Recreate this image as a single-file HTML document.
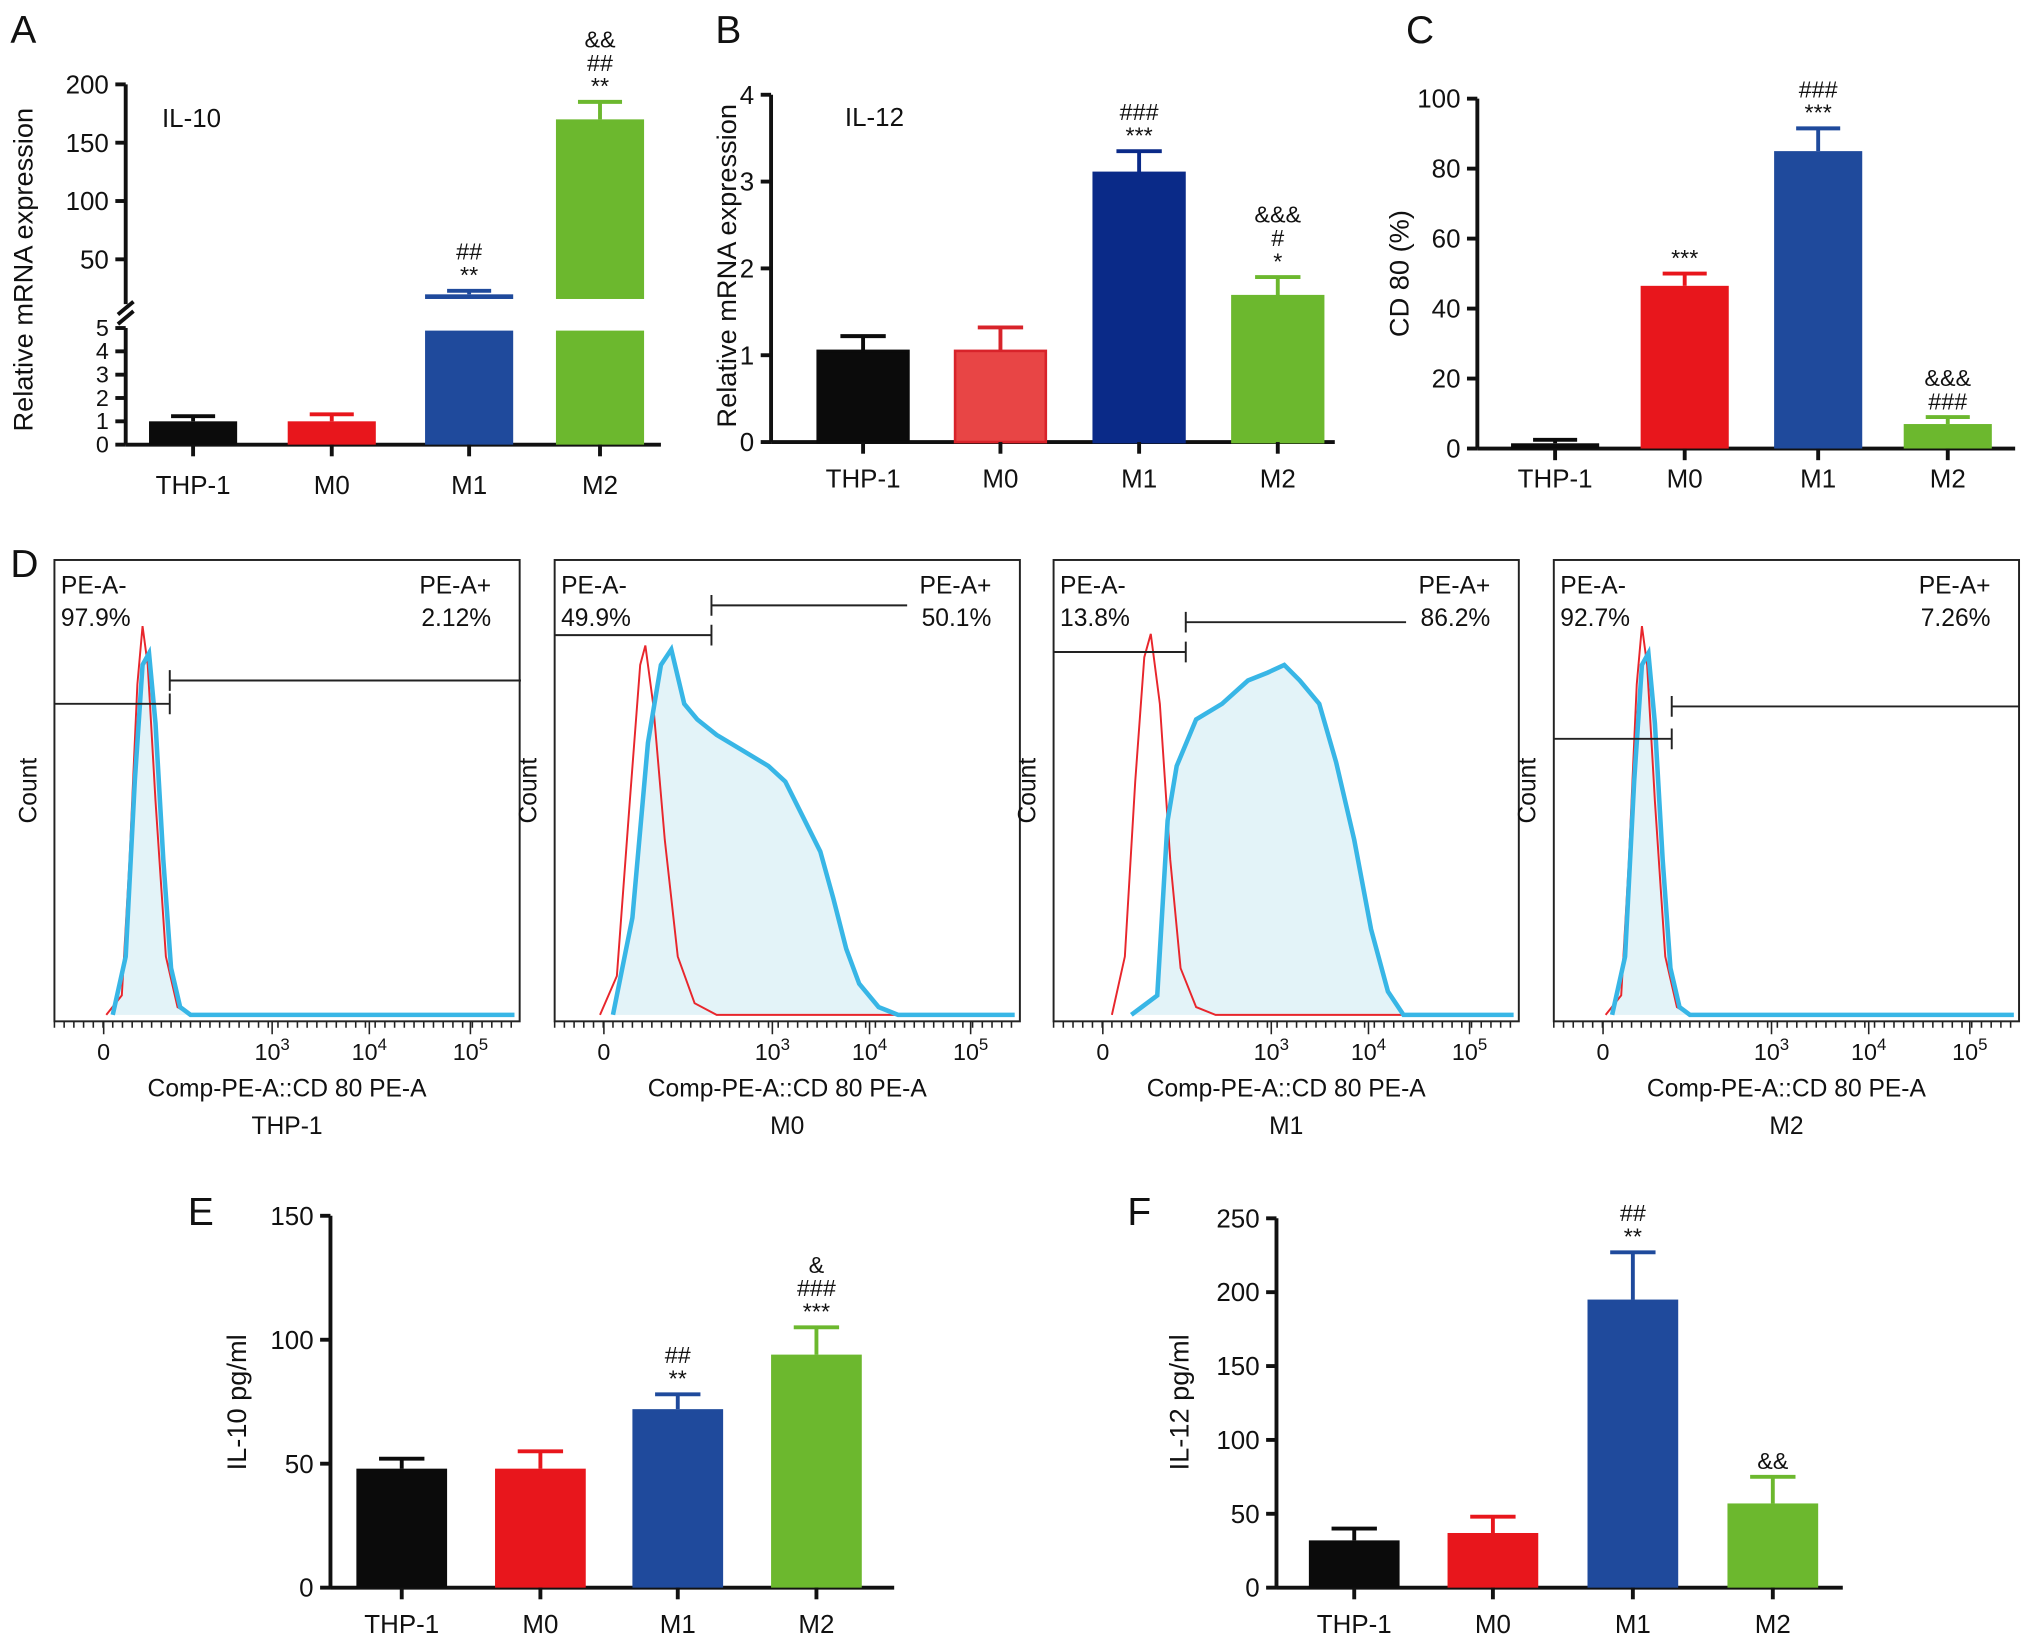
<!DOCTYPE html>
<html><head><meta charset="utf-8">
<style>
html,body{margin:0;padding:0;background:#fff;}
svg{display:block;font-family:"Liberation Sans",Arial,sans-serif;}
</style></head>
<body>
<svg id="fig" width="2032" height="1650" viewBox="0 0 1568 1273" xmlns="http://www.w3.org/2000/svg"></svg>
<script>
// ---- data ----
const groups = ["THP-1","M0","M1","M2"];
const aVals = [1.0, 1.0, 20, 170];
const aErr  = [1.22, 1.3, 23, 185];
const aSig  = [[],[],["##","**"],["&&","##","**"]];
const bVals = [1.05, 1.05, 3.1, 1.68];
const bErr  = [1.22, 1.32, 3.35, 1.9];
const bSig  = [[],[],["###","***"],["&&&","#","*"]];
const bTicks = [0,1,2,3,4];
const cVals = [1.5, 46.5, 85, 7];
const cErr  = [2.5, 50, 91.5, 9];
const cSig  = [[],["***"],["###","***"],["&&&","###"]];
const cTicks = [0,20,40,60,80,100];
const eVals = [48, 48, 72, 94];
const eErr  = [52, 55, 78, 105];
const eSig  = [[],[],["##","**"],["&","###","***"]];
const eTicks = [0,50,100,150];
const fVals = [32, 37, 195, 57];
const fErr  = [40, 48, 227, 75];
const fSig  = [[],[],["##","**"],["&&"]];
const fTicks = [0,50,100,150,200,250];
// flow histograms: [channel position (px in box), count (0-1)]
const flowLabels = ["THP-1","M0","M1","M2"];
const flowNeg = ["97.9%","49.9%","13.8%","92.7%"];
const flowPos = ["2.12%","50.1%","86.2%","7.26%"];
const redHist = [
 [[40,0],[52,0.05],[58,0.4],[64,0.85],[68,1.0],[72,0.9],[78,0.55],[86,0.15],[95,0.02],[105,0]],
 [[35,0],[48,0.1],[58,0.55],[66,0.9],[70,0.95],[76,0.8],[85,0.45],[95,0.15],[108,0.03],[125,0],[330,0]],
 [[45,0],[55,0.15],[63,0.6],[70,0.92],[75,0.98],[82,0.8],[90,0.4],[98,0.12],[110,0.02],[125,0],[330,0]],
 [[40,0],[52,0.05],[58,0.4],[64,0.85],[68,1.0],[72,0.9],[78,0.55],[86,0.15],[95,0.02],[105,0]]
];
const blueHist = [
 [[45,0],[55,0.15],[62,0.6],[68,0.9],[73,0.93],[78,0.75],[84,0.4],[90,0.12],[97,0.02],[105,0],[355,0]],
 [[45,0],[60,0.25],[72,0.7],[82,0.9],[90,0.94],[100,0.8],[110,0.76],[125,0.72],[145,0.68],[165,0.64],[178,0.6],[190,0.52],[205,0.42],[215,0.3],[225,0.17],[235,0.08],[250,0.02],[265,0],[355,0]],
 [[60,0],[80,0.05],[88,0.5],[95,0.64],[110,0.76],[130,0.8],[150,0.86],[165,0.88],[178,0.9],[190,0.86],[205,0.8],[218,0.65],[232,0.45],[245,0.22],[258,0.06],[270,0],[355,0]],
 [[45,0],[55,0.15],[62,0.6],[68,0.9],[73,0.93],[78,0.75],[84,0.4],[90,0.12],[97,0.02],[105,0],[355,0]]
];
const NS="http://www.w3.org/2000/svg";
const svg=document.getElementById("fig");
function el(tag,attrs,parent){const e=document.createElementNS(NS,tag);for(const k in attrs)e.setAttribute(k,attrs[k]);(parent||svg).appendChild(e);return e;}
function txt(x,y,s,size,anchor,parent){const t=el("text",{x:x,y:y,"font-size":size,"text-anchor":anchor||"middle",fill:"#111"},parent);t.textContent=s;return t;}

const colorsDefault=["#0b0b0b","#e8161c","#1f4a9c","#6cb82e"];

function barPanel(id,cfg,vals,errs,sigs,ticks){
  const g=el("g",{});
  
  
  const y=v=>cfg.y0-v*cfg.k;
  const ya=el("line",{x1:cfg.ax,y1:y(ticks[ticks.length-1]),x2:cfg.ax,y2:cfg.y0,stroke:"#111","stroke-width":3},g);
  
  
  const xa=el("line",{x1:cfg.ax,y1:cfg.y0,x2:cfg.xend,y2:cfg.y0,stroke:"#111","stroke-width":3},g);
  
  
  ticks.forEach(t=>{
    el("line",{x1:cfg.ax-8,y1:y(t),x2:cfg.ax,y2:y(t),stroke:"#111","stroke-width":3},g);
    const tl=txt(cfg.ax-13,y(t)+7,String(t),20,"end",g);
    
    
  });
  vals.forEach((v,i)=>{
    const cx=cfg.cx[i], w=cfg.w, col=(cfg.colors||colorsDefault)[i];
    const top=y(errs[i]);
    el("line",{x1:cx,y1:top,x2:cx,y2:y(v),stroke:col,"stroke-width":3},g);
    el("line",{x1:cx-w*0.25,y1:top,x2:cx+w*0.25,y2:top,stroke:col,"stroke-width":3},g);
    const r=el("rect",{x:cx-w/2,y:y(v),width:w,height:v*cfg.k,fill:(cfg.fills||colorsDefault)[i],stroke:col,"stroke-width":cfg.fills?2:0},g);
    
    
    el("line",{x1:cx,y1:cfg.y0,x2:cx,y2:cfg.y0+9,stroke:"#111","stroke-width":3},g);
    const xl=txt(cx,cfg.y0+(cfg.xlo||35),groups[i],20,"middle",g);
    
    
    sigs[i].forEach((s,j)=>{
      const n=sigs[i].length-1-j;
      const st=txt(cx,top-6-n*18,s,18,"middle",g);
      
      
    });
  });
  const yt=txt(0,0,cfg.ytitle,21,"middle",g);
  yt.setAttribute("transform",`translate(${cfg.ytx},${cfg.yty}) rotate(-90)`);
  
  
  if(cfg.inner){const it=txt(cfg.inner[0],cfg.inner[1],cfg.inner[2],20,"start",g);
    
    }
  const pl=txt(cfg.letter[0],cfg.letter[1],cfg.letter[2],30,"start",g);
  
  
}

// ---- Panel A (broken axis) ----
(function(){
  const g=el("g",{});
  
  
  const ax=97, y0=343;
  const yA=v=> v<=5 ? y0-v*18 : 200-(v-50)*0.9;
  const brk=16;
  el("line",{x1:ax,y1:y0,x2:ax,y2:yA(5),stroke:"#111","stroke-width":3},g);
  const ua=el("line",{x1:ax,y1:yA(200),x2:ax,y2:yA(brk)+4,stroke:"#111","stroke-width":3},g);
  
  
  el("line",{x1:ax-6,y1:yA(brk)+12,x2:ax+6,y2:yA(brk)+2,stroke:"#111","stroke-width":3},g);
  el("line",{x1:ax-6,y1:yA(5)-3,x2:ax+6,y2:yA(5)-13,stroke:"#111","stroke-width":3},g);
  const xa=el("line",{x1:ax,y1:y0,x2:510,y2:y0,stroke:"#111","stroke-width":3},g);
  
  
  [0,1,2,3,4,5,50,100,150,200].forEach(t=>{
    el("line",{x1:ax-8,y1:yA(t),x2:ax,y2:yA(t),stroke:"#111","stroke-width":3},g);
    const tl=txt(ax-13,yA(t)+(t<=5?6:7),String(t),t<=5?18:20,"end",g);
    
    
  });
  const cxs=[149,256,362,463], w=68;
  aVals.forEach((v,i)=>{
    const cx=cxs[i], col=colorsDefault[i];
    const top=yA(aErr[i]);
    el("line",{x1:cx,y1:top,x2:cx,y2:yA(v),stroke:col,"stroke-width":3},g);
    el("line",{x1:cx-w*0.25,y1:top,x2:cx+w*0.25,y2:top,stroke:col,"stroke-width":3},g);
    const lo=Math.min(v,5);
    const r=el("rect",{x:cx-w/2,y:yA(lo)+(v>5?2:0),width:w,height:lo*18-(v>5?2:0),fill:col},g);
    
    
    if(v>brk){el("rect",{x:cx-w/2,y:yA(v),width:w,height:yA(brk)-yA(v),fill:col},g);}
    else if(v>5){el("rect",{x:cx-w/2,y:yA(v),width:w,height:4,fill:col},g);}
    el("line",{x1:cx,y1:y0,x2:cx,y2:y0+9,stroke:"#111","stroke-width":3},g);
    const xl=txt(cx,y0+38,groups[i],20,"middle",g);
    
    
    aSig[i].forEach((s,j)=>{
      const n=aSig[i].length-1-j;
      const st=txt(cx,top-6-n*18,s,18,"middle",g);
      
      
    });
  });
  const yt=txt(0,0,"Relative mRNA expression",21,"middle",g);
  yt.setAttribute("transform","translate(25,208) rotate(-90)");
  
  
  const it=txt(125,98,"IL-10",20,"start",g);
  
  
  const pl=txt(8,33,"A",30,"start",g);
  
  
})();

barPanel("panel-b",{ax:595,y0:341,k:67,xend:1030,cx:[666,772,879,986],w:70,ytitle:"Relative mRNA expression",ytx:568,yty:205,inner:[652,97,"IL-12"],letter:[552,33,"B"],xlo:35,
  colors:["#0b0b0b","#d8232a","#0a2a88","#6cb82e"],fills:["#0b0b0b","#e84545","#0a2a88","#6cb82e"]},bVals,bErr,bSig,bTicks);
barPanel("panel-c",{ax:1140,y0:346,k:2.7,xend:1555,cx:[1200,1300,1403,1503],w:68,ytitle:"CD 80 (%)",ytx:1087,yty:211,letter:[1085,33,"C"],xlo:30},cVals,cErr,cSig,cTicks);
barPanel("panel-e",{ax:255,y0:1225,k:1.913,xend:690,cx:[310,417,523,630],w:70,ytitle:"IL-10 pg/ml",ytx:190,yty:1082,letter:[145,945,"E"]},eVals,eErr,eSig,eTicks);
barPanel("panel-f",{ax:985,y0:1225,k:1.14,xend:1422,cx:[1045,1152,1260,1368],w:70,ytitle:"IL-12 pg/ml",ytx:917,yty:1082,letter:[870,945,"F"]},fVals,fErr,fSig,fTicks);

// ---- Panel D flow ----
const boxX=[42,428,813,1199], boxW=359, boxY=432, boxH=356;
const gateL=[[543,131],[490,549],[503,915],[570,1290]];
const gateR=[[525,402],[467,700],[480,1085],[545,1558]];
const dl=txt(8,445,"D",30,"start");


flowLabels.forEach((lab,p)=>{
  const g=el("g",{});
  
  
  const bx=boxX[p];
  const base=boxY+351, H=300;
  const fx=c=>bx+c, fy=n=>base-n*H;
  const bl=blueHist[p].map(d=>[fx(d[0]),fy(d[1])]);
  const area=el("path",{d:"M"+bl.map(q=>q.join(",")).join(" L")+" Z",fill:"#e3f3f8",stroke:"none"},g);
  
  
  const rd=redHist[p].map(d=>[fx(d[0]),fy(d[1])]);
  const rl=el("polyline",{points:rd.map(q=>q.join(",")).join(" "),fill:"none",stroke:"#e8262c","stroke-width":1.5},g);
  
  
  const bline=el("polyline",{points:bl.map(q=>q.join(",")).join(" "),fill:"none",stroke:"#38b6e6","stroke-width":3.5},g);
  
  
  const box=el("rect",{x:bx,y:boxY,width:boxW,height:boxH,fill:"none",stroke:"#222","stroke-width":1.5},g);
  
  
  const [ly,lx]=gateL[p],[ry,rx]=gateR[p];
  const gl=el("path",{d:`M${bx},${ly} H${lx} M${lx},${ly-8} V${ly+8}`,stroke:"#222","stroke-width":1.5,fill:"none"},g);
  
  
  const gr=el("path",{d:`M${lx},${ry} H${rx} M${lx},${ry-8} V${ry+8}`,stroke:"#222","stroke-width":1.5,fill:"none"},g);
  
  
  [[bx+5,458,"PE-A-","start"],[bx+5,483,flowNeg[p],"start"],[bx+boxW-22,458,"PE-A+","end"],[bx+boxW-22,483,flowPos[p],"end"]].forEach(t=>{
    const tt=txt(t[0],t[1],t[2],19,t[3],g);
    
    
  });
  const ct=txt(0,0,"Count",19,"middle",g);
  ct.setAttribute("transform",`translate(${bx-14},610) rotate(-90)`);
  
  
  let tk="";
  for(let c=0;c<=355;c+=7.5){tk+=`M${bx+c},${boxY+boxH} v5 `;}
  [38,168,243,321].forEach(c=>{tk+=`M${bx+c},${boxY+boxH} v10 `;});
  el("path",{d:tk,stroke:"#222","stroke-width":1.2},g);
  const t0=txt(bx+38,boxY+boxH+30,"0",18,"middle",g);
  
  
  [[168,3],[243,4],[321,5]].forEach(d=>{
    const t=el("text",{x:bx+d[0],y:boxY+boxH+30,"font-size":18,"text-anchor":"middle",fill:"#111"},g);
    t.innerHTML=`10<tspan dy="-8" font-size="13">${d[1]}</tspan>`;
    
    
  });
  const xt=txt(bx+boxW/2,boxY+boxH+58,"Comp-PE-A::CD 80 PE-A",19,"middle",g);
  
  
  const sl=txt(bx+boxW/2,boxY+boxH+87,lab,19,"middle",g);
  
  
});
</script>
</body></html>
